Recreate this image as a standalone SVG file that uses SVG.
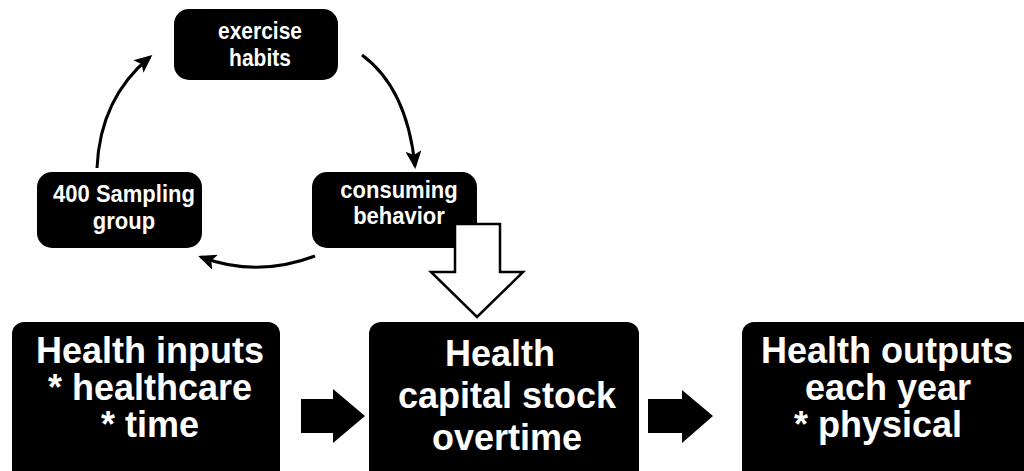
<svg xmlns="http://www.w3.org/2000/svg" width="1024" height="471" viewBox="0 0 1024 471">
  <style>
    .box { fill: #000; }
    .lbl { fill: #fff; font-family: "Liberation Sans", Arial, sans-serif; font-weight: bold; text-anchor: middle; }
    .sm { font-size: 21px; }
    .md { font-size: 22px; }
    .lg { font-size: 36px; }
    .curve { fill: none; stroke: #000; stroke-width: 3; }
    .block { fill: #000; }
    .hollow { fill: #fff; stroke: #000; stroke-width: 2.5; stroke-linejoin: miter; }
  </style>
  <defs>
    <marker id="head" markerUnits="userSpaceOnUse" markerWidth="18" markerHeight="16" viewBox="0 0 18 16" refX="15" refY="8" orient="auto">
      <path d="M0,0 L18,8 L0,16 L4,8 Z" fill="#000"/>
    </marker>
  </defs>
  <rect width="1024" height="471" fill="#fff"/>

  <!-- cycle nodes (labels slightly stretched vertically) -->
  <g id="exercise">
    <rect class="box" x="174" y="9" width="164" height="71" rx="15"/>
    <text class="lbl sm" transform="translate(260,39) scale(1,1.15)">exercise</text>
    <text class="lbl sm" transform="translate(260,66) scale(1,1.15)">habits</text>
  </g>
  <g id="sampling">
    <rect class="box" x="37" y="172" width="165" height="76" rx="15"/>
    <text class="lbl md" transform="translate(124,202) scale(1,1.05)">400 Sampling</text>
    <text class="lbl md" transform="translate(124,229) scale(1,1.05)">group</text>
  </g>
  <g id="consuming">
    <rect class="box" x="312" y="172" width="165" height="76" rx="15"/>
    <text class="lbl md" transform="translate(399,198) scale(1,1.05)">consuming</text>
    <text class="lbl md" transform="translate(399,224) scale(1,1.05)">behavior</text>
  </g>

  <!-- main chain nodes -->
  <g id="inputs">
    <rect class="box" x="12" y="322" width="268" height="170" rx="12"/>
    <text class="lbl lg" x="150" y="363">Health inputs</text>
    <text class="lbl lg" x="150" y="400">* healthcare</text>
    <text class="lbl lg" x="150" y="437">* time</text>
  </g>
  <g id="stock">
    <rect class="box" x="369" y="322" width="270" height="170" rx="12"/>
    <text class="lbl lg" x="500" y="366">Health</text>
    <text class="lbl lg" x="507" y="408">capital stock</text>
    <text class="lbl lg" x="507" y="450">overtime</text>
  </g>
  <g id="outputs">
    <rect class="box" x="742" y="322" width="300" height="170" rx="12"/>
    <text class="lbl lg" x="887" y="363">Health outputs</text>
    <text class="lbl lg" x="888" y="400">each year</text>
    <text class="lbl lg" x="878" y="437">* physical</text>
  </g>

  <!-- connectors -->
  <g id="connectors">
    <path class="curve" d="M97,168 Q100,98 150,57" marker-end="url(#head)"/>
    <path class="curve" d="M362,55 Q407,88 415,166" marker-end="url(#head)"/>
    <path class="curve" d="M315,256 Q257,278 201,257" marker-end="url(#head)"/>
    <polygon class="hollow" points="455,224 500,224 500,272 523,272 477,317 431,272 455,272"/>
    <polygon class="block" points="301,399 333,399 333,389 365,416 333,443 333,433 301,433"/>
    <polygon class="block" points="648,399 682,399 682,390 713,416 682,443 682,433 648,433"/>
  </g>
</svg>
